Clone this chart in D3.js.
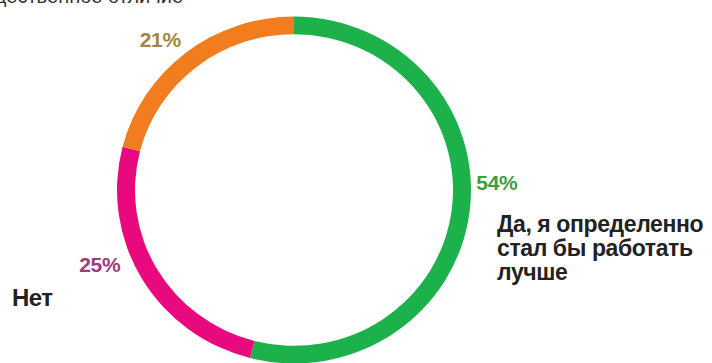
<!DOCTYPE html>
<html>
<head>
<meta charset="utf-8">
<script src="https://cdn.jsdelivr.net/npm/d3@7"></script>
<style>
  html, body { margin: 0; padding: 0; background: #fff; }
  svg { display: block; font-family: "Liberation Sans", Arial, sans-serif; }
</style>
</head>
<body>
<div id="chart"></div>
<script>
// answers, clockwise from 12 o'clock
const answers = ["Да, я определенно стал бы работать лучше", "Нет", ""];
const shares = [54, 25, 21];
const sliceColors = ["#1cb14b", "#e8097f", "#f27d1e"];
const pctColors = ["#3e9e3c", "#9c3c79", "#a0893a"];
const titleText = "существенное отличие";

var width = 712, height = 363;
var cx = 294, cy = 190,
    outerR = 177, innerR = 159;

var svg = d3.select("#chart")
    .append("svg")
    .attr("width", width)
    .attr("height", height);

// title is cut off by the top edge in the original too
svg.append("text")
    .attr("x", 183)
    .attr("y", 3)
    .attr("text-anchor", "end")
    .attr("font-size", 20)
    .attr("fill", "#333")
    .text(titleText);

var pie = d3.pie().sort(null).value(d => d);
var arcs = pie(shares);

var arc = d3.arc().innerRadius(innerR).outerRadius(outerR);

var g = svg.append("g")
    .attr("transform", "translate(" + cx + "," + cy + ") scale(1,0.98)");

g.selectAll("path")
    .data(arcs)
    .enter()
    .append("path")
    .attr("d", arc)
    .attr("fill", (d, i) => sliceColors[i]);

// percent labels: where along each slice (0..1) and how far out
var pctPos = [{t: 0.452, r: 203}, {t: 0.607, r: 208}, {t: 0.448, r: 201}];

function pctAngle(d, i) {
    return d.startAngle + (d.endAngle - d.startAngle) * pctPos[i].t;
}

svg.selectAll("text.pct")
    .data(arcs)
    .enter()
    .append("text")
    .attr("class", "pct")
    .attr("x", (d, i) => cx + Math.sin(pctAngle(d, i)) * pctPos[i].r)
    .attr("y", (d, i) => cy - Math.cos(pctAngle(d, i)) * pctPos[i].r + 7.5)
    .attr("text-anchor", "middle")
    .attr("font-size", 21)
    .attr("font-weight", "bold")
    .attr("letter-spacing", -0.3)
    .attr("fill", (d, i) => pctColors[i])
    .text(d => d.data + "%");

// category labels
var yesLines = ["Да, я определенно", "стал бы работать", "лучше"];
var yes = svg.append("text")
    .attr("x", 497)
    .attr("y", 232)
    .attr("font-size", 23)
    .attr("font-weight", "bold")
    .attr("letter-spacing", -0.4)
    .attr("fill", "#222");
yes.selectAll("tspan")
    .data(yesLines)
    .enter()
    .append("tspan")
    .attr("x", 497)
    .attr("dy", (d, i) => i === 0 ? 0 : 24)
    .text(d => d);

svg.append("text")
    .attr("x", 12)
    .attr("y", 306)
    .attr("font-size", 24)
    .attr("font-weight", "bold")
    .attr("letter-spacing", -0.5)
    .attr("fill", "#222")
    .text(answers[1]);
</script>
</body>
</html>
